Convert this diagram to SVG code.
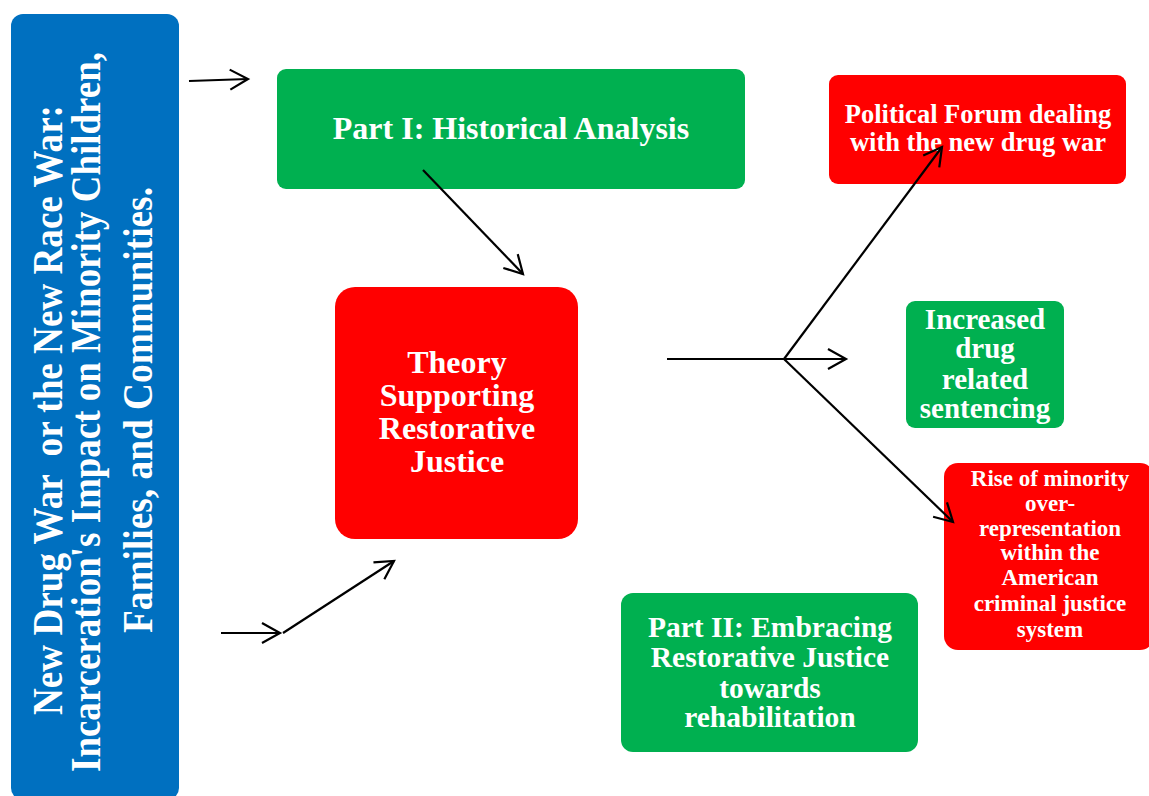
<svg xmlns="http://www.w3.org/2000/svg" width="1149" height="796" viewBox="0 0 1149 796">
<style>
.t{font-family:"Liberation Serif","Times New Roman",serif;font-weight:bold;fill:#fff;text-anchor:middle}
.blue{fill:#0070C0}
.green{fill:#00B050}
.red{fill:#FF0000}
.conn{stroke:#000;stroke-width:2.2;fill:none;marker-end:url(#ah)}
</style>
<defs>
<marker id="ah" markerUnits="userSpaceOnUse" viewBox="0 0 40 40" markerWidth="40" markerHeight="40" refX="20" refY="20" orient="auto" overflow="visible">
<path d="M2,10 L20,20 L2,30" fill="none" stroke="#000" stroke-width="2.2"/>
</marker>
</defs>
<rect width="1149" height="796" fill="#fff"/>
<g id="title">
<rect class="blue" x="11" y="14" width="168" height="786" rx="12"/>
<text class="t" font-size="43" xml:space="preserve" transform="translate(62,410) rotate(-90)" textLength="610" lengthAdjust="spacingAndGlyphs">New Drug War  or the New Race War:</text>
<text class="t" font-size="43" transform="translate(100,412) rotate(-90)" textLength="720" lengthAdjust="spacingAndGlyphs">Incarceration's Impact on Minority Children,</text>
<text class="t" font-size="43" transform="translate(152,410) rotate(-90)" textLength="446" lengthAdjust="spacingAndGlyphs">Families, and Communities.</text>
</g>
<g id="part1">
<rect class="green" x="277" y="69" width="468" height="120" rx="9"/>
<text class="t" font-size="32" x="511" y="139">Part I: Historical Analysis</text>
</g>
<g id="theory">
<rect class="red" x="335" y="287" width="243" height="252" rx="20"/>
<text class="t" font-size="32" x="457" y="373">Theory</text>
<text class="t" font-size="32" x="457" y="406">Supporting</text>
<text class="t" font-size="32" x="457" y="439">Restorative</text>
<text class="t" font-size="32" x="457" y="472">Justice</text>
</g>
<g id="political">
<rect class="red" x="829" y="75" width="297" height="109" rx="9"/>
<text class="t" font-size="26.5" x="978" y="123">Political Forum dealing</text>
<text class="t" font-size="26.5" x="978" y="151">with the new drug war</text>
</g>
<g id="increased">
<rect class="green" x="906" y="301" width="158" height="127" rx="9"/>
<text class="t" font-size="29" x="985" y="329">Increased</text>
<text class="t" font-size="29" x="985" y="358">drug</text>
<text class="t" font-size="29" x="985" y="389">related</text>
<text class="t" font-size="29" x="985" y="418">sentencing</text>
</g>
<g id="rise">
<rect class="red" x="944" y="463" width="210" height="187" rx="14"/>
<text class="t" font-size="23" x="1050" y="486">Rise of minority</text>
<text class="t" font-size="23" x="1050" y="511">over-</text>
<text class="t" font-size="23" x="1050" y="536">representation</text>
<text class="t" font-size="23" x="1050" y="560">within the</text>
<text class="t" font-size="23" x="1050" y="585">American</text>
<text class="t" font-size="23" x="1050" y="611">criminal justice</text>
<text class="t" font-size="23" x="1050" y="637">system</text>
</g>
<g id="part2">
<rect class="green" x="621" y="593" width="297" height="159" rx="12"/>
<text class="t" font-size="29.5" x="770" y="637">Part II: Embracing</text>
<text class="t" font-size="29.5" x="770" y="667">Restorative Justice</text>
<text class="t" font-size="29.5" x="770" y="698">towards</text>
<text class="t" font-size="29.5" x="770" y="727">rehabilitation</text>
</g>
<g id="connectors">
<path class="conn" d="M189,81 L248,79"/>
<path class="conn" d="M423,170 L523,274"/>
<path class="conn" d="M221,633 L280,633"/>
<path class="conn" d="M283,633 L394,561"/>
<path class="conn" d="M667,359 L846,359"/>
<path class="conn" d="M784,359 L942,147"/>
<path class="conn" d="M784,359 L953,522"/>
</g>
</svg>
